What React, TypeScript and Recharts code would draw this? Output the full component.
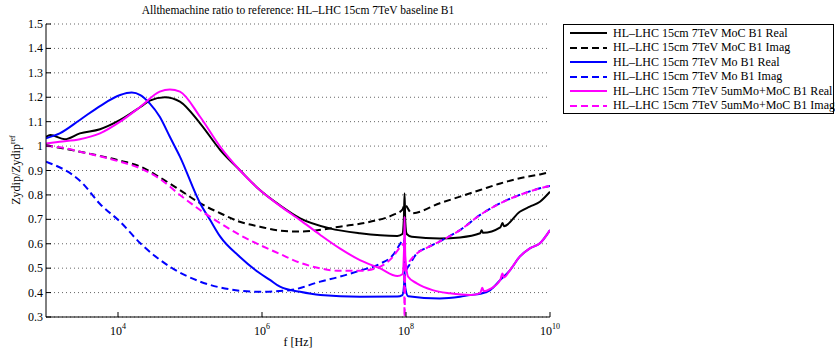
import React from 'react';
import { LineChart, Line, XAxis, YAxis, CartesianGrid, Legend } from 'recharts';

// x = log10(f [Hz])
const mocRealLogF = [3.0, 3.06, 3.26, 3.47, 3.75, 4.03, 4.31, 4.44, 4.65, 4.86, 5.14, 5.42, 5.69, 5.97, 6.25, 6.53, 6.94, 7.36, 7.88, 7.95, 7.97, 7.98, 7.99, 8.01, 8.08, 8.47, 8.75, 9.03, 9.05, 9.07, 9.31, 9.34, 9.36, 9.58, 9.72, 9.86, 10.0];
const mocRealVal = [1.038, 1.045, 1.028, 1.052, 1.069, 1.107, 1.16, 1.186, 1.2, 1.182, 1.093, 0.984, 0.902, 0.82, 0.757, 0.704, 0.663, 0.643, 0.632, 0.64, 0.7, 0.807, 0.69, 0.64, 0.629, 0.622, 0.626, 0.643, 0.655, 0.645, 0.667, 0.685, 0.672, 0.731, 0.752, 0.772, 0.813];

const mocImagLogF = [3.0, 3.47, 4.03, 4.31, 4.58, 4.86, 5.14, 5.42, 5.69, 5.97, 6.25, 6.53, 6.67, 7.08, 7.5, 7.82, 7.95, 7.98, 8.08, 8.47, 8.75, 9.03, 9.31, 9.58, 9.86, 10.0];
const mocImagVal = [1.004, 0.977, 0.94, 0.916, 0.872, 0.82, 0.766, 0.725, 0.69, 0.67, 0.654, 0.65, 0.652, 0.67, 0.69, 0.718, 0.74, 0.76, 0.725, 0.766, 0.793, 0.82, 0.847, 0.868, 0.884, 0.893];

const moRealLogF = [3.0, 3.19, 3.47, 3.75, 4.03, 4.19, 4.31, 4.44, 4.58, 4.72, 4.86, 5.14, 5.28, 5.42, 5.69, 5.97, 6.11, 6.25, 6.53, 6.81, 7.36, 7.88, 7.95, 7.975, 7.98, 7.99, 8.03, 8.47, 8.75, 8.89, 9.03, 9.17, 9.31, 9.44, 9.58, 9.72, 9.86, 10.0];
const moRealVal = [1.032, 1.052, 1.107, 1.164, 1.209, 1.219, 1.209, 1.175, 1.12, 1.038, 0.957, 0.766, 0.697, 0.629, 0.547, 0.479, 0.452, 0.424, 0.403, 0.39, 0.383, 0.384, 0.39, 0.44, 0.49, 0.42, 0.385, 0.376, 0.383, 0.39, 0.395, 0.41, 0.452, 0.49, 0.547, 0.581, 0.602, 0.656];

const moImagLogF = [3.0, 3.5, 3.75, 4.03, 4.31, 4.72, 5.14, 5.56, 5.97, 6.39, 6.81, 7.08, 7.36, 7.64, 7.82, 7.92, 7.97, 7.99, 8.03, 8.15, 8.3, 8.47, 8.75, 9.03, 9.31, 9.58, 9.86, 10.0];
const moImagVal = [0.936, 0.85, 0.763, 0.69, 0.602, 0.506, 0.445, 0.413, 0.403, 0.41, 0.445, 0.465, 0.49, 0.518, 0.554, 0.6, 0.62, 0.49, 0.506, 0.56, 0.585, 0.61, 0.656, 0.718, 0.766, 0.8, 0.827, 0.837];

const coatRealLogF = [3.0, 3.19, 3.47, 3.75, 4.03, 4.31, 4.58, 4.72, 4.86, 5.14, 5.42, 5.69, 5.97, 6.25, 6.53, 6.81, 7.08, 7.36, 7.64, 7.88, 7.95, 7.975, 7.98, 7.99, 8.03, 8.15, 8.37, 8.61, 8.89, 9.03, 9.06, 9.08, 9.17, 9.31, 9.34, 9.36, 9.44, 9.58, 9.72, 9.86, 10.0];
const coatRealVal = [1.011, 1.018, 1.028, 1.052, 1.1, 1.161, 1.223, 1.232, 1.223, 1.12, 0.997, 0.902, 0.82, 0.755, 0.697, 0.636, 0.581, 0.533, 0.499, 0.468, 0.475, 0.6, 0.711, 0.55, 0.465, 0.438, 0.41, 0.397, 0.39, 0.398, 0.42, 0.405, 0.415, 0.452, 0.478, 0.462, 0.49, 0.547, 0.581, 0.602, 0.656];

const coatImagLogF = [3.0, 3.19, 3.47, 4.03, 4.31, 4.58, 4.86, 5.14, 5.42, 5.69, 5.97, 6.25, 6.53, 6.81, 7.08, 7.36, 7.64, 7.82, 7.93, 7.97, 7.98, 7.99, 8.03, 8.15, 8.3, 8.47, 8.75, 9.03, 9.31, 9.58, 9.86, 10.0];
const coatImagVal = [1.0, 0.995, 0.977, 0.936, 0.909, 0.866, 0.8, 0.738, 0.684, 0.636, 0.595, 0.558, 0.522, 0.499, 0.489, 0.489, 0.506, 0.547, 0.59, 0.6, 0.3, 0.5, 0.52, 0.56, 0.585, 0.61, 0.656, 0.718, 0.766, 0.8, 0.827, 0.837];

const xTicks = [4, 6, 8, 10];
const yTicks = [0.3, 0.4, 0.5, 0.6, 0.7, 0.8, 0.9, 1.0, 1.1, 1.2, 1.3, 1.4, 1.5];
const titleText = 'Allthemachine ratio to reference: HL\u2013LHC 15cm 7TeV baseline B1';
const xLabelText = 'f [Hz]';

const seriesNames = [
  'HL\u2013LHC 15cm 7TeV MoC B1 Real',
  'HL\u2013LHC 15cm 7TeV MoC B1 Imag',
  'HL\u2013LHC 15cm 7TeV Mo B1 Real',
  'HL\u2013LHC 15cm 7TeV Mo B1 Imag',
  'HL\u2013LHC 15cm 7TeV 5umMo+MoC B1 Real',
  'HL\u2013LHC 15cm 7TeV 5umMo+MoC B1 Imag',
];
const seriesColors = ['#000000', '#000000', '#0000ff', '#0000ff', '#ff00ff', '#ff00ff'];
const seriesDash = ['', '7 4', '', '7 4', '', '7 4'];

const toPts = (f: number[], v: number[]) => f.map((x, i) => ({ f: x, v: v[i] }));
const seriesData = [
  toPts(mocRealLogF, mocRealVal),
  toPts(mocImagLogF, mocImagVal),
  toPts(moRealLogF, moRealVal),
  toPts(moImagLogF, moImagVal),
  toPts(coatRealLogF, coatRealVal),
  toPts(coatImagLogF, coatImagVal),
];

const FONT = '"Liberation Serif", "Times New Roman", serif';

const BottomTick = (props: any) => {
  const { x, y, payload } = props;
  return (
    <g>
      <line x1={x} y1={y} x2={x} y2={y - 5} stroke="#000" />
      <text x={x} y={y + 18} textAnchor="middle" fontFamily={FONT} fontSize={12} fill="#000">
        10<tspan dy={-6} fontSize={8}>{payload.value}</tspan>
      </text>
    </g>
  );
};
const TopTick = (props: any) => {
  const { x, y } = props;
  return <line x1={x} y1={y} x2={x} y2={y + 5} stroke="#000" />;
};
const LeftTick = (props: any) => {
  const { x, y, payload } = props;
  const v = payload.value;
  const label = Math.abs(v - 1) < 1e-9 ? '1' : v.toFixed(1);
  return (
    <g>
      <line x1={x} y1={y} x2={x + 5} y2={y} stroke="#000" />
      <text x={x - 3} y={y + 4} textAnchor="end" fontFamily={FONT} fontSize={12} fill="#000">
        {label}
      </text>
    </g>
  );
};
const RightTick = (props: any) => {
  const { x, y } = props;
  return <line x1={x} y1={y} x2={x - 5} y2={y} stroke="#000" />;
};

const YLabel = () => (
  <text
    x={20}
    y={170}
    transform="rotate(-90 20 170)"
    textAnchor="middle"
    fontFamily={FONT}
    fontSize={12}
    fill="#000"
  >
    Zydip/Zydip<tspan dy={-5} fontSize={8}>ref</tspan>
  </text>
);

const LegendBox = () => (
  <div
    style={{
      width: 271,
      height: 90,
      boxSizing: 'border-box',
      border: '1px solid #000',
      background: '#fff',
      paddingTop: 1,
      fontFamily: FONT,
      fontSize: 12,
      color: '#000',
    }}
  >
    {seriesNames.map((n, i) => (
      <div key={n} style={{ height: 14.5, display: 'flex', alignItems: 'center', whiteSpace: 'nowrap' }}>
        <svg width={43} height={6} style={{ marginLeft: 6, flex: 'none' }}>
          <line x1={0} y1={3} x2={37} y2={3} stroke={seriesColors[i]} strokeWidth={2} strokeDasharray={seriesDash[i] || undefined} />
        </svg>
        <span>{n}</span>
      </div>
    ))}
  </div>
);

export default function App() {
  return (
    <div style={{ position: 'absolute', left: 0, top: 0, width: 835, height: 350, background: '#fff' }}>
      <div
        style={{
          position: 'absolute',
          left: 46,
          width: 504,
          top: 3,
          textAlign: 'center',
          fontFamily: FONT,
          fontSize: 11.5,
          lineHeight: '14px',
          color: '#000',
          whiteSpace: 'nowrap',
        }}
      >
        {titleText}
      </div>
      <div
        style={{
          position: 'absolute',
          left: 46,
          width: 504,
          top: 335,
          textAlign: 'center',
          fontFamily: FONT,
          fontSize: 12,
          lineHeight: '14px',
          color: '#000',
        }}
      >
        {xLabelText}
      </div>
      <LineChart width={835} height={350} margin={{ top: 24, right: 285, bottom: 0, left: 0 }}>
        <CartesianGrid vertical={false} stroke="#666" strokeDasharray="1 3" />
        <XAxis
          dataKey="f"
          type="number"
          domain={[3, 10]}
          ticks={xTicks}
          allowDataOverflow
          height={33}
          tickSize={0}
          tickMargin={0}
          tickLine={false}
          axisLine={{ stroke: '#000' }}
          tick={<BottomTick />}
          interval={0}
        />
        <XAxis
          xAxisId="top"
          orientation="top"
          dataKey="f"
          type="number"
          domain={[3, 10]}
          ticks={xTicks}
          allowDataOverflow
          height={0}
          tickSize={0}
          tickMargin={0}
          tickLine={false}
          axisLine={{ stroke: '#000' }}
          tick={<TopTick />}
          interval={0}
        />
        <YAxis
          type="number"
          domain={[0.3, 1.5]}
          ticks={yTicks}
          allowDataOverflow
          width={46}
          tickSize={0}
          tickMargin={0}
          tickLine={false}
          axisLine={{ stroke: '#000' }}
          tick={<LeftTick />}
          interval={0}
          label={<YLabel />}
        />
        <YAxis
          yAxisId="right"
          orientation="right"
          type="number"
          domain={[0.3, 1.5]}
          ticks={yTicks}
          allowDataOverflow
          width={0}
          tickSize={0}
          tickMargin={0}
          tickLine={false}
          axisLine={{ stroke: '#000' }}
          tick={<RightTick />}
          interval={0}
        />
        {seriesData.map((d, i) => (
          <Line
            key={seriesNames[i]}
            data={d}
            dataKey="v"
            name={seriesNames[i]}
            type="monotone"
            stroke={seriesColors[i]}
            strokeWidth={2}
            strokeDasharray={seriesDash[i] || undefined}
            dot={false}
            activeDot={false}
            isAnimationActive={false}
          />
        ))}
        <Legend
          layout="horizontal"
          verticalAlign="middle"
          align="center"
          content={<LegendBox />}
          wrapperStyle={{ left: 563, top: 24, width: 271, height: 90 }}
        />
      </LineChart>
    </div>
  );
}
